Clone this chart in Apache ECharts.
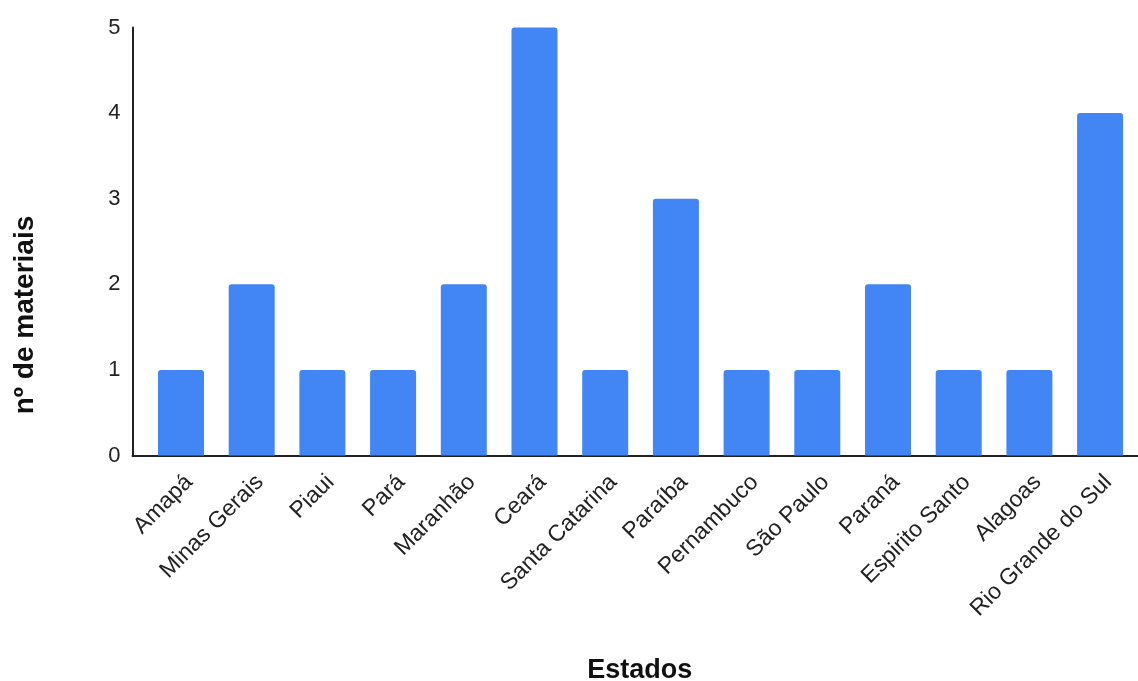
<!DOCTYPE html>
<html>
<head>
<meta charset="utf-8">
<script src="https://cdn.jsdelivr.net/npm/echarts@6/dist/echarts.min.js"></script>
<style>
html,body{margin:0;padding:0;background:#fff;}
#c{width:1138px;height:681px;}
</style>
</head>
<body>
<div id="c"></div>
<script>
const categories = ["Amapá","Minas Gerais","Piaui","Pará","Maranhão","Ceará","Santa Catarina","Paraíba","Pernambuco","São Paulo","Paraná","Espirito Santo","Alagoas","Rio Grande do Sul"];
const values = [1,2,1,1,2,5,1,3,1,1,2,1,1,4];
const yTicks = [0,1,2,3,4,5];
const xTitle = 'Estados';
const yTitle = 'nº de materiais';

const FONT = '"Liberation Sans", Arial, sans-serif';
const chart = echarts.init(document.getElementById('c'));
const idx = categories.map((c,i)=>i);
chart.setOption({
  animation:false,
  grid:{left:132.5, right:0, top:27.5, bottom:225.5, containLabel:false, outerBoundsMode:'none'},
  graphic:[{
    type:'text',
    x:25, y:315,
    rotation:Math.PI/2,
    style:{text:yTitle, fontFamily:FONT, fontSize:28, fontWeight:'bold', fill:'#111', align:'center', verticalAlign:'middle'}
  }],
  xAxis:{
    type:'value',
    min:-0.686, max:13.536,
    name:xTitle,
    nameLocation:'middle',
    nameGap:202,
    nameTextStyle:{fontFamily:FONT, fontSize:27, fontWeight:'bold', color:'#111', padding:[0,0,0,9]},
    axisLine:{show:true, onZero:false, lineStyle:{color:'#222', width:2}},
    axisTick:{show:false},
    splitLine:{show:false},
    axisLabel:{
      customValues: idx,
      formatter: v => categories[Math.round(v)],
      rotate:45, margin:15, verticalAlign:'top',
      fontFamily:FONT, fontSize:23, color:'#222'
    }
  },
  yAxis:{
    type:'value', min:0, max:5, interval:1,
    axisLine:{show:true, onZero:false, lineStyle:{color:'#222', width:2}},
    axisTick:{show:false},
    splitLine:{show:false},
    axisLabel:{
      customValues: yTicks,
      margin:12, fontFamily:FONT, fontSize:22, color:'#222'
    }
  },
  series:[{
    type:'bar',
    barWidth:46,
    data: values.map((v,i)=>[i,v]),
    itemStyle:{color:'#4285F4', borderRadius:[3,3,0,0]}
  }]
});
</script>
</body>
</html>
